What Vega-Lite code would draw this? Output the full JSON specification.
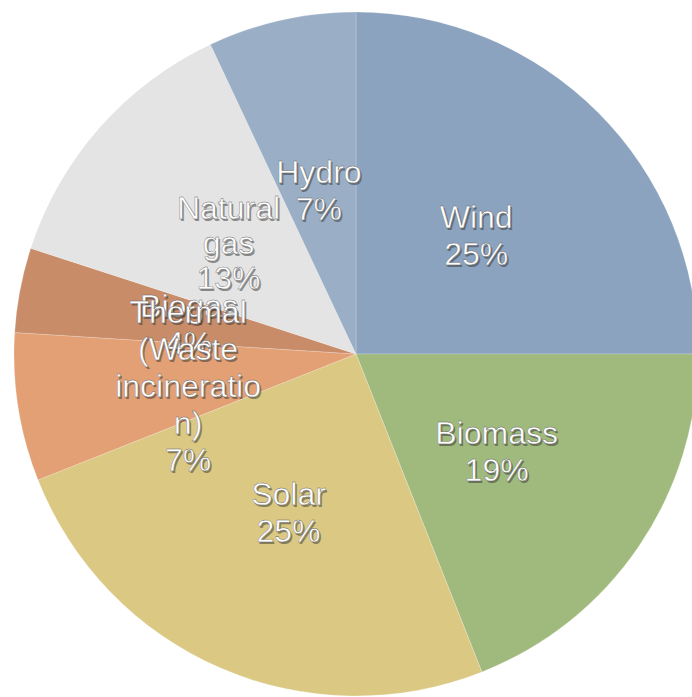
{
  "$schema": "https://vega.github.io/schema/vega-lite/v6.json",
  "width": 712,
  "height": 708,
  "padding": 0,
  "autosize": "none",
  "background": "white",
  "data": {
    "values": [
      {"source": "Wind", "share": 25, "order": 1, "lines": 2, "label": "Wind\n25%"},
      {"source": "Biomass", "share": 19, "order": 2, "lines": 2, "label": "Biomass\n19%"},
      {"source": "Solar", "share": 25, "order": 3, "lines": 2, "label": "Solar\n25%"},
      {"source": "Thermal (Waste incineration)", "share": 7, "order": 4, "lines": 5, "label": "Thermal\n(Waste\nincineratio\nn)\n7%"},
      {"source": "Biogas", "share": 4, "order": 5, "lines": 2, "label": "Biogas\n4%"},
      {"source": "Natural gas", "share": 13, "order": 6, "lines": 3, "label": "Natural\ngas\n13%"},
      {"source": "Hydro", "share": 7, "order": 7, "lines": 2, "label": "Hydro\n7%"}
    ]
  },
  "encoding": {
    "theta": {"field": "share", "type": "quantitative", "stack": true},
    "order": {"field": "order", "type": "quantitative"}
  },
  "layer": [
    {
      "mark": {"type": "arc", "radius": 342, "stroke": "#ffffff", "strokeOpacity": 0.2, "strokeWidth": 1},
      "encoding": {
        "color": {
          "field": "source",
          "type": "nominal",
          "scale": {
            "domain": ["Wind", "Biomass", "Solar", "Thermal (Waste incineration)", "Biogas", "Natural gas", "Hydro"],
            "range": ["#8BA3BF", "#A0BA7D", "#DBC983", "#E3A075", "#C98C69", "#E4E4E4", "#9AAFC6"]
          },
          "legend": null
        }
      }
    },
    {
      "mark": {"type": "text", "radius": 170, "font": "Liberation Sans", "fontSize": 32, "lineBreak": "\n", "lineHeight": 37, "align": "center", "baseline": "middle", "dx": 1.5, "dy": -13.5, "fill": "#333333", "opacity": 0.5},
      "encoding": {"text": {"condition": {"test": "datum.lines == 2", "field": "label"}, "value": ""}}
    },
    {
      "mark": {"type": "text", "radius": 170, "font": "Liberation Sans", "fontSize": 32, "lineBreak": "\n", "lineHeight": 37, "align": "center", "baseline": "middle", "dy": -15.5, "fill": "#ffffff", "stroke": "#666666", "strokeWidth": 0.4},
      "encoding": {"text": {"condition": {"test": "datum.lines == 2", "field": "label"}, "value": ""}}
    },
    {
      "mark": {"type": "text", "radius": 170, "font": "Liberation Sans", "fontSize": 32, "lineBreak": "\n", "lineHeight": 35, "align": "center", "baseline": "middle", "dx": 1.5, "dy": -31, "fill": "#333333", "opacity": 0.5},
      "encoding": {"text": {"condition": {"test": "datum.lines == 3", "field": "label"}, "value": ""}}
    },
    {
      "mark": {"type": "text", "radius": 170, "font": "Liberation Sans", "fontSize": 32, "lineBreak": "\n", "lineHeight": 35, "align": "center", "baseline": "middle", "dy": -33, "fill": "#ffffff", "stroke": "#666666", "strokeWidth": 0.4},
      "encoding": {"text": {"condition": {"test": "datum.lines == 3", "field": "label"}, "value": ""}}
    },
    {
      "mark": {"type": "text", "radius": 170, "font": "Liberation Sans", "fontSize": 32, "lineBreak": "\n", "lineHeight": 37, "align": "center", "baseline": "middle", "dx": 1.5, "dy": -66, "fill": "#333333", "opacity": 0.5},
      "encoding": {"text": {"condition": {"test": "datum.lines == 5", "field": "label"}, "value": ""}}
    },
    {
      "mark": {"type": "text", "radius": 170, "font": "Liberation Sans", "fontSize": 32, "lineBreak": "\n", "lineHeight": 37, "align": "center", "baseline": "middle", "dy": -68, "fill": "#ffffff", "stroke": "#666666", "strokeWidth": 0.4},
      "encoding": {"text": {"condition": {"test": "datum.lines == 5", "field": "label"}, "value": ""}}
    }
  ]
}
